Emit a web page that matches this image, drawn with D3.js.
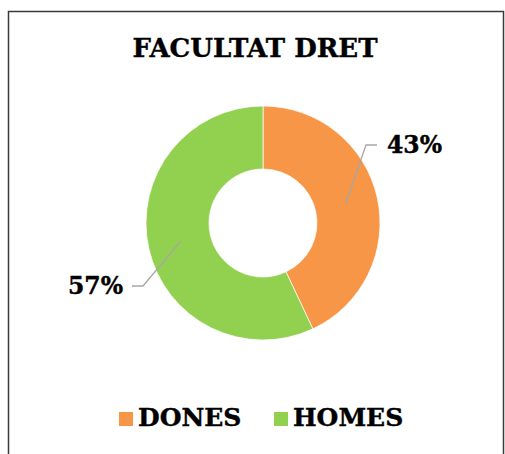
<!DOCTYPE html>
<html>
  <head>
    <meta charset="utf-8">
    <title>Facultat Dret</title>
    <script src="https://d3js.org/d3.v7.min.js"></script>
    <style>
      body { margin: 0; background: #fff; }
      text { font-family: "DejaVu Serif", serif; font-weight: bold; fill: #000; stroke: #000; stroke-width: 0.4px; }
    </style>
  </head>
  <body>
    <svg id="chart" width="505" height="454"></svg>
    <script>
      // data
      var categories = ["DONES", "HOMES"];
      var values = [43, 57];
      var colours = ["#F79646", "#92D050"];
      var title = "FACULTAT DRET";

      var svg = d3.select("#chart");

      // frame (bottom edge cut off in the original)
      svg.append("path")
        .attr("d", "M 8.5 454 L 8.5 11.5 L 503.5 11.5 L 503.5 454")
        .attr("fill", "none")
        .attr("stroke", "#3a3a3a")
        .attr("stroke-width", 1.5);

      svg.append("text")
        .attr("x", 255)
        .attr("y", 57)
        .attr("text-anchor", "middle")
        .style("font-size", "26px")
        .text(title);

      var cx = 263, cy = 223, outer = 117, inner = 54;
      var total = d3.sum(values);

      var pie = d3.pie().sort(null).value(function(d) { return d; });
      var arc = d3.arc().innerRadius(inner).outerRadius(outer);
      var mid = d3.arc().innerRadius((inner + outer) / 2 - 1).outerRadius((inner + outer) / 2 - 1);

      var g = svg.append("g").attr("transform", "translate(" + cx + "," + cy + ")");
      var slices = pie(values);

      g.selectAll(".slice")
        .data(slices)
        .enter().append("path")
          .attr("class", "slice")
          .attr("d", arc)
          .attr("fill", function(d, i) { return colours[i]; })
          .attr("stroke", "#fff")
          .attr("stroke-width", 0.7);

      // label elbows, placed as in the original
      var elbows = [[103, -78], [-120, 63]];
      var runs = [11, -11];

      slices.forEach(function(d, i) {
        var p = mid.centroid(d);
        var e = elbows[i];
        g.append("polyline")
          .attr("points", [p, e, [e[0] + runs[i], e[1]]].map(function(q) { return q.join(","); }).join(" "))
          .attr("fill", "none")
          .attr("stroke", "#a6a6a6")
          .attr("stroke-width", 1.3);
        g.append("text")
          .attr("x", e[0] + runs[i] + (runs[i] > 0 ? 10 : -9))
          .attr("y", e[1] + 8)
          .attr("text-anchor", runs[i] > 0 ? "start" : "end")
          .style("font-size", "23.5px")
          .text(d3.format(".0%")(d.data / total));
      });

      // legend
      var legendX = [119, 274];
      var legend = svg.selectAll(".legend")
        .data(categories)
        .enter().append("g")
          .attr("class", "legend")
          .attr("transform", function(d, i) { return "translate(" + legendX[i] + ",412)"; });
      legend.append("rect")
        .attr("width", 14)
        .attr("height", 14)
        .attr("fill", function(d, i) { return colours[i]; });
      legend.append("text")
        .attr("x", 19)
        .attr("y", 13.5)
        .style("font-size", "25px")
        .text(function(d) { return d; });
    </script>
  </body>
</html>
